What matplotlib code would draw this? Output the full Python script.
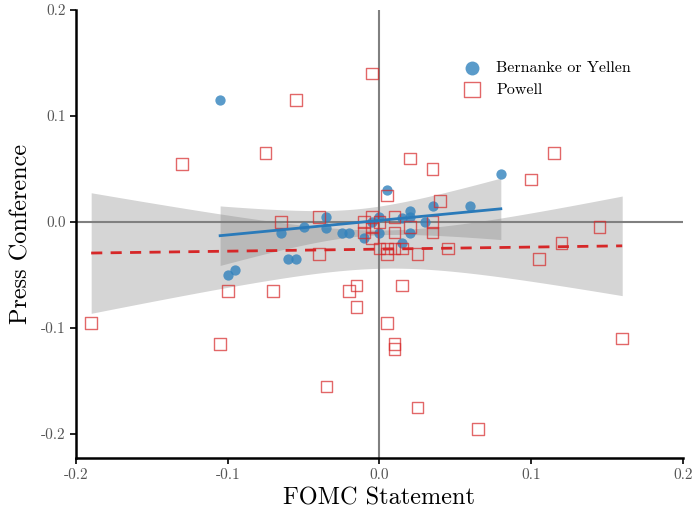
import numpy as np
import matplotlib
matplotlib.use("Agg")
from matplotlib import pyplot as plt

plt.rcParams['font.family'] = 'cmr10'
plt.rcParams['mathtext.fontset'] = 'cm'
plt.rcParams['axes.unicode_minus'] = False

#%% data
by_x = [-0.105, -0.100, -0.095, -0.060, -0.055, -0.065, -0.050, -0.035, -0.035,
        -0.025, -0.020, -0.010, -0.005, 0.000, 0.000, 0.005, 0.015, 0.015,
        0.020, 0.020, 0.020, 0.030, 0.035, 0.060, 0.080]
by_y = [0.115, -0.050, -0.045, -0.035, -0.035, -0.010, -0.005, 0.005, -0.006,
        -0.010, -0.010, -0.015, 0.000, 0.005, -0.010, 0.030, 0.004, -0.020,
        0.010, 0.005, -0.010, 0.000, 0.015, 0.015, 0.045]

pw_x = [-0.190, -0.130, -0.105, -0.100, -0.075, -0.070, -0.065, -0.055, -0.040,
        -0.040, -0.035, -0.020, -0.015, -0.015, -0.010, -0.010, -0.005, -0.005,
        -0.005, -0.005, 0.000, 0.000, 0.005, 0.005, 0.005, 0.005, 0.010, 0.010,
        0.010, 0.010, 0.010, 0.015, 0.015, 0.020, 0.020, 0.025, 0.025, 0.035,
        0.035, 0.035, 0.040, 0.045, 0.065, 0.100, 0.105, 0.115, 0.120, 0.145,
        0.160]
pw_y = [-0.095, 0.055, -0.115, -0.065, 0.065, -0.065, 0.000, 0.115, 0.005,
        -0.030, -0.155, -0.065, -0.060, -0.080, 0.000, -0.010, 0.140, 0.005,
        -0.005, -0.015, 0.000, -0.025, 0.025, -0.025, -0.030, -0.095, 0.005,
        -0.010, -0.025, -0.115, -0.120, -0.025, -0.060, 0.060, -0.005, -0.030,
        -0.175, 0.050, 0.000, -0.010, 0.020, -0.025, -0.195, 0.040, -0.035,
        0.065, -0.020, -0.005, -0.110]

x_ticks = [-0.2, -0.1, 0.0, 0.1, 0.2]
y_ticks = [-0.2, -0.1, 0.0, 0.1, 0.2]


#%% linear fit with confidence band
def fit_band(x, y, t=2.01, n_grid=100):
    x = np.asarray(x)
    y = np.asarray(y)
    n = len(x)
    b, a = np.polyfit(x, y, 1)
    resid = y - (a + b * x)
    s = np.sqrt(np.sum(resid ** 2) / (n - 2))
    xm = x.mean()
    sxx = np.sum((x - xm) ** 2)
    grid = np.linspace(x.min(), x.max(), n_grid)
    yhat = a + b * grid
    se = s * np.sqrt(1.0 / n + (grid - xm) ** 2 / sxx)
    return grid, yhat, yhat - t * se, yhat + t * se


fig = plt.figure(figsize=(6.94, 5.09), dpi=100)
ax = fig.add_axes([0.1095, 0.1002, 0.8745, 0.8802])

ax.axhline(0, color='#808080', lw=1.5, zorder=1)
ax.axvline(0, color='#808080', lw=1.5, zorder=1)

g, yh, lo, hi = fit_band(by_x, by_y)
ax.fill_between(g, lo, hi, color='gray', alpha=0.33, lw=0, zorder=2)
ax.plot(g, yh, color='#2a7ab9', lw=2, zorder=4)

# bootstrap band in the original is a bit narrower
g, yh, lo, hi = fit_band(pw_x, pw_y, t=1.85)
ax.fill_between(g, lo, hi, color='gray', alpha=0.33, lw=0, zorder=2)
ax.plot(g, yh, color='#d62728', lw=2, ls=(0, (4, 3)), zorder=4)

ax.scatter(by_x, by_y, s=55, color='#3182bd', alpha=0.8, lw=0, zorder=3,
           label='Bernanke or Yellen')
ax.scatter(pw_x, pw_y, s=70, marker='s', facecolor='none', edgecolor='#d62728',
           alpha=0.7, lw=1.0, zorder=3, label='Powell')

ax.set_xlim(-0.2, 0.2)
ax.set_ylim(-0.2226, 0.2)
ax.set_xticks(x_ticks)
ax.set_yticks(y_ticks)
ax.set_xticklabels(['%.1f' % v for v in x_ticks])
ax.set_yticklabels(['%.1f' % v for v in y_ticks])
ax.tick_params(direction='out', length=4, width=1.2, labelsize=11,
               labelcolor='#555555', color='black')

for sp in ['top', 'right']:
    ax.spines[sp].set_visible(False)
for sp in ['left', 'bottom']:
    ax.spines[sp].set_linewidth(1.8)
    ax.spines[sp].set_color('black')

ax.set_xlabel('FOMC Statement', fontsize=17.5, labelpad=4)
ax.set_ylabel('Press Conference', fontsize=17.5, labelpad=6)

ax.legend(loc='upper left', bbox_to_anchor=(0.603, 0.918), frameon=False,
          fontsize=11.5, handletextpad=0.5, labelspacing=0.45, markerscale=1.35)

fig.savefig('out.png', dpi=100)
